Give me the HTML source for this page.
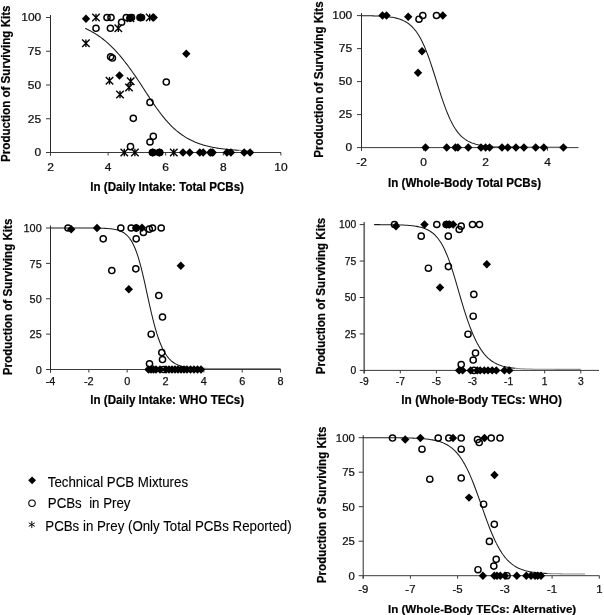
<!DOCTYPE html>
<html><head><meta charset="utf-8"><title>Figure</title>
<style>html,body{margin:0;padding:0;background:#fff}svg{display:block}</style></head>
<body><svg width="604" height="615" viewBox="0 0 604 615" shape-rendering="geometricPrecision">
<rect width="604" height="615" fill="#fff"/>
<g stroke="#3a3a3a" stroke-width="1" fill="none">
<path d="M50.5 15.0V155.5" stroke="#2a2a2a" stroke-width="1"/>
<path d="M46.0 152.5H281"/>
<path d="M46.0 118.75H50.5"/>
<path d="M46.0 85.00H50.5"/>
<path d="M46.0 51.25H50.5"/>
<path d="M46.0 17.50H50.5"/>
<path d="M50.50 152.5V155.5"/>
<path d="M108.10 152.5V155.5"/>
<path d="M165.70 152.5V155.5"/>
<path d="M223.30 152.5V155.5"/>
<path d="M280.90 152.5V155.5"/>
</g>
<path d="M85.06 28.39 L86.09 28.84 L87.11 29.31 L88.14 29.80 L89.16 30.31 L90.19 30.83 L91.22 31.37 L92.24 31.94 L93.27 32.52 L94.29 33.12 L95.32 33.74 L96.35 34.39 L97.37 35.06 L98.40 35.74 L99.42 36.45 L100.45 37.19 L101.48 37.94 L102.50 38.72 L103.53 39.53 L104.55 40.35 L105.58 41.20 L106.61 42.08 L107.63 42.98 L108.66 43.91 L109.68 44.86 L110.71 45.83 L111.74 46.83 L112.76 47.85 L113.79 48.90 L114.81 49.98 L115.84 51.07 L116.87 52.20 L117.89 53.34 L118.92 54.51 L119.94 55.71 L120.97 56.92 L122.00 58.16 L123.02 59.42 L124.05 60.71 L125.07 62.01 L126.10 63.34 L127.13 64.69 L128.15 66.06 L129.18 67.44 L130.20 68.85 L131.23 70.27 L132.26 71.72 L133.28 73.18 L134.31 74.66 L135.33 76.15 L136.36 77.66 L137.39 79.18 L138.41 80.71 L139.44 82.26 L140.46 83.81 L141.49 85.38 L142.52 86.95 L143.54 88.53 L144.57 90.10 L145.59 91.68 L146.62 93.26 L147.65 94.84 L148.67 96.41 L149.70 97.97 L150.72 99.52 L151.75 101.06 L152.78 102.58 L153.80 104.09 L154.83 105.58 L155.85 107.04 L156.88 108.49 L157.91 109.91 L158.93 111.31 L159.96 112.68 L160.98 114.02 L162.01 115.34 L163.04 116.63 L164.06 117.88 L165.09 119.11 L166.11 120.30 L167.14 121.47 L168.17 122.60 L169.19 123.70 L170.22 124.77 L171.24 125.81 L172.27 126.82 L173.30 127.79 L174.32 128.74 L175.35 129.65 L176.37 130.54 L177.40 131.39 L178.43 132.22 L179.45 133.02 L180.48 133.79 L181.50 134.53 L182.53 135.24 L183.56 135.93 L184.58 136.59 L185.61 137.23 L186.63 137.85 L187.66 138.44 L188.69 139.01 L189.71 139.55 L190.74 140.07 L191.76 140.58 L192.79 141.06 L193.82 141.52 L194.84 141.97 L195.87 142.39 L196.89 142.80 L197.92 143.19 L198.95 143.57 L199.97 143.93 L201.00 144.27 L202.02 144.60 L203.05 144.92 L204.08 145.22 L205.10 145.51 L206.13 145.78 L207.15 146.05 L208.18 146.30 L209.21 146.54 L210.23 146.77 L211.26 146.99 L212.28 147.20 L213.31 147.40 L214.34 147.59 L215.36 147.78 L216.39 147.95 L217.41 148.12 L218.44 148.28 L219.47 148.43 L220.49 148.58 L221.52 148.72 L222.54 148.85 L223.57 148.97 L224.60 149.10 L225.62 149.21 L226.65 149.32 L227.67 149.43 L228.70 149.53 L229.73 149.62 L230.75 149.71 L231.78 149.80 L232.80 149.88 L233.83 149.96 L234.86 150.03 L235.88 150.11 L236.91 150.17 L237.93 150.24 L238.96 150.30" fill="none" stroke="#1a1a1a" stroke-width="1.05"/>
<path d="M238.96 150.30 L239.99 150.36 L241.01 150.42 L242.04 150.47 L243.06 150.52 L244.09 150.57 L245.12 150.62 L246.14 150.66 L247.17 150.70 L248.19 150.74 L249.22 150.78" fill="none" stroke="#8a8a8a" stroke-width="1.05"/>
<g font-family='"Liberation Sans", Arial, Helvetica, sans-serif' font-size="10.9" fill="#111" stroke="#111" stroke-width="0.25">
<text transform="translate(41.2 156.40) scale(1.1 1)" text-anchor="end">0</text>
<text transform="translate(41.2 122.65) scale(1.1 1)" text-anchor="end">25</text>
<text transform="translate(41.2 88.90) scale(1.1 1)" text-anchor="end">50</text>
<text transform="translate(41.2 55.15) scale(1.1 1)" text-anchor="end">75</text>
<text transform="translate(41.2 21.40) scale(1.1 1)" text-anchor="end">100</text>
<text transform="translate(50.50 171.00) scale(1.1 1)" text-anchor="middle">2</text>
<text transform="translate(108.10 171.00) scale(1.1 1)" text-anchor="middle">4</text>
<text transform="translate(165.70 171.00) scale(1.1 1)" text-anchor="middle">6</text>
<text transform="translate(223.30 171.00) scale(1.1 1)" text-anchor="middle">8</text>
<text transform="translate(280.90 171.00) scale(1.1 1)" text-anchor="middle">10</text>
</g>
<g font-family='"Liberation Sans", Arial, Helvetica, sans-serif' font-size="11.6" font-weight="bold" fill="#000" stroke="#000" stroke-width="0.2">
<text transform="translate(90.3 191.2) scale(1 1.07)">ln (Daily Intake: Total PCBs)</text>
<text transform="translate(10 83.7) rotate(-90) scale(1 1.03)" text-anchor="middle">Production of Surviving Kits</text>
</g>
<path d="M86.00 14.60L90.20 18.80L86.00 23.00L81.80 18.80Z" fill="#000"/>
<path d="M96.00 13.85V21.35M92.25 13.85L99.75 21.35M99.75 13.85L92.25 21.35" fill="none" stroke="#000" stroke-width="1.35"/>
<circle cx="107.00" cy="17.50" r="3.1" fill="none" stroke="#000" stroke-width="1.45"/>
<circle cx="111.00" cy="17.50" r="3.1" fill="none" stroke="#000" stroke-width="1.45"/>
<circle cx="96.00" cy="28.30" r="3.1" fill="none" stroke="#000" stroke-width="1.45"/>
<circle cx="110.40" cy="28.30" r="3.1" fill="none" stroke="#000" stroke-width="1.45"/>
<path d="M118.30 24.55V32.05M114.55 24.55L122.05 32.05M122.05 24.55L114.55 32.05" fill="none" stroke="#000" stroke-width="1.35"/>
<circle cx="121.60" cy="22.30" r="3.1" fill="none" stroke="#000" stroke-width="1.45"/>
<circle cx="126.30" cy="17.50" r="3.1" fill="none" stroke="#000" stroke-width="1.45"/>
<circle cx="130.00" cy="18.00" r="3.1" fill="none" stroke="#000" stroke-width="1.45"/>
<path d="M130.00 13.80L134.20 18.00L130.00 22.20L125.80 18.00Z" fill="#000"/>
<circle cx="131.50" cy="17.50" r="3.1" fill="none" stroke="#000" stroke-width="1.45"/>
<circle cx="140.00" cy="17.50" r="3.1" fill="none" stroke="#000" stroke-width="1.45"/>
<path d="M140.70 13.30L144.90 17.50L140.70 21.70L136.50 17.50Z" fill="#000"/>
<circle cx="141.50" cy="17.50" r="3.1" fill="none" stroke="#000" stroke-width="1.45"/>
<path d="M149.70 13.75V21.25M145.95 13.75L153.45 21.25M153.45 13.75L145.95 21.25" fill="none" stroke="#000" stroke-width="1.35"/>
<path d="M153.70 13.30L157.90 17.50L153.70 21.70L149.50 17.50Z" fill="#000"/>
<path d="M130.50 14.45V21.95M126.75 14.45L134.25 21.95M134.25 14.45L126.75 21.95" fill="none" stroke="#000" stroke-width="1.35"/>
<path d="M85.90 39.45V46.95M82.15 39.45L89.65 46.95M89.65 39.45L82.15 46.95" fill="none" stroke="#000" stroke-width="1.35"/>
<circle cx="110.60" cy="56.80" r="3.1" fill="none" stroke="#000" stroke-width="1.45"/>
<circle cx="112.40" cy="58.00" r="3.1" fill="none" stroke="#000" stroke-width="1.45"/>
<path d="M119.50 71.30L123.70 75.50L119.50 79.70L115.30 75.50Z" fill="#000"/>
<path d="M109.50 76.95V84.45M105.75 76.95L113.25 84.45M113.25 76.95L105.75 84.45" fill="none" stroke="#000" stroke-width="1.35"/>
<path d="M130.70 77.45V84.95M126.95 77.45L134.45 84.95M134.45 77.45L126.95 84.95" fill="none" stroke="#000" stroke-width="1.35"/>
<path d="M129.00 83.75V91.25M125.25 83.75L132.75 91.25M132.75 83.75L125.25 91.25" fill="none" stroke="#000" stroke-width="1.35"/>
<path d="M120.00 90.75V98.25M116.25 90.75L123.75 98.25M123.75 90.75L116.25 98.25" fill="none" stroke="#000" stroke-width="1.35"/>
<path d="M186.30 49.60L190.50 53.80L186.30 58.00L182.10 53.80Z" fill="#000"/>
<circle cx="166.30" cy="82.00" r="3.1" fill="none" stroke="#000" stroke-width="1.45"/>
<circle cx="150.00" cy="102.40" r="3.1" fill="none" stroke="#000" stroke-width="1.45"/>
<circle cx="133.30" cy="118.30" r="3.1" fill="none" stroke="#000" stroke-width="1.45"/>
<circle cx="153.30" cy="136.30" r="3.1" fill="none" stroke="#000" stroke-width="1.45"/>
<circle cx="150.00" cy="142.00" r="3.1" fill="none" stroke="#000" stroke-width="1.45"/>
<circle cx="130.50" cy="146.70" r="3.1" fill="none" stroke="#000" stroke-width="1.45"/>
<path d="M124.30 148.75V156.25M120.55 148.75L128.05 156.25M128.05 148.75L120.55 156.25" fill="none" stroke="#000" stroke-width="1.35"/>
<path d="M134.90 148.75V156.25M131.15 148.75L138.65 156.25M138.65 148.75L131.15 156.25" fill="none" stroke="#000" stroke-width="1.35"/>
<circle cx="152.40" cy="152.50" r="3.1" fill="none" stroke="#000" stroke-width="1.45"/>
<circle cx="153.10" cy="152.50" r="3.1" fill="none" stroke="#000" stroke-width="1.45"/>
<circle cx="159.10" cy="152.50" r="3.1" fill="none" stroke="#000" stroke-width="1.45"/>
<circle cx="159.80" cy="152.50" r="3.1" fill="none" stroke="#000" stroke-width="1.45"/>
<path d="M152.70 148.30L156.90 152.50L152.70 156.70L148.50 152.50Z" fill="#000"/>
<path d="M159.40 148.30L163.60 152.50L159.40 156.70L155.20 152.50Z" fill="#000"/>
<path d="M173.80 148.75V156.25M170.05 148.75L177.55 156.25M177.55 148.75L170.05 156.25" fill="none" stroke="#000" stroke-width="1.35"/>
<path d="M183.00 148.30L187.20 152.50L183.00 156.70L178.80 152.50Z" fill="#000"/>
<path d="M189.70 148.30L193.90 152.50L189.70 156.70L185.50 152.50Z" fill="#000"/>
<path d="M199.80 148.30L204.00 152.50L199.80 156.70L195.60 152.50Z" fill="#000"/>
<path d="M203.20 148.30L207.40 152.50L203.20 156.70L199.00 152.50Z" fill="#000"/>
<path d="M210.30 148.30L214.50 152.50L210.30 156.70L206.10 152.50Z" fill="#000"/>
<path d="M212.70 148.30L216.90 152.50L212.70 156.70L208.50 152.50Z" fill="#000"/>
<path d="M226.90 148.30L231.10 152.50L226.90 156.70L222.70 152.50Z" fill="#000"/>
<path d="M230.90 148.30L235.10 152.50L230.90 156.70L226.70 152.50Z" fill="#000"/>
<path d="M244.20 148.30L248.40 152.50L244.20 156.70L240.00 152.50Z" fill="#000"/>
<path d="M250.10 148.30L254.30 152.50L250.10 156.70L245.90 152.50Z" fill="#000"/>
<circle cx="211.50" cy="152.50" r="3.1" fill="none" stroke="#000" stroke-width="1.45"/>
<g stroke="#3a3a3a" stroke-width="1" fill="none">
<path d="M361.5 13.1V150.6" stroke="#2a2a2a" stroke-width="1"/>
<path d="M357.0 147.6H578.5"/>
<path d="M357.0 114.60H361.5"/>
<path d="M357.0 81.60H361.5"/>
<path d="M357.0 48.60H361.5"/>
<path d="M357.0 15.60H361.5"/>
<path d="M361.50 147.6V150.6"/>
<path d="M423.50 147.6V150.6"/>
<path d="M485.50 147.6V150.6"/>
<path d="M547.50 147.6V150.6"/>
</g>
<path d="M361.50 15.69 L362.78 15.70 L364.07 15.71 L365.35 15.73 L366.64 15.74 L367.92 15.76 L369.21 15.79 L370.49 15.81 L371.78 15.84 L373.06 15.87 L374.35 15.91 L375.63 15.95 L376.91 15.99 L378.20 16.05 L379.48 16.11 L380.77 16.17 L382.05 16.25 L383.34 16.33 L384.62 16.43 L385.91 16.54 L387.19 16.67 L388.48 16.81 L389.76 16.97 L391.04 17.15 L392.33 17.35 L393.61 17.58 L394.90 17.84 L396.18 18.13 L397.47 18.46 L398.75 18.83 L400.04 19.25 L401.32 19.72 L402.61 20.25 L403.89 20.85 L405.18 21.52 L406.46 22.27 L407.74 23.11 L409.03 24.04 L410.31 25.09 L411.60 26.25 L412.88 27.54 L414.17 28.97 L415.45 30.55 L416.74 32.29 L418.02 34.20 L419.31 36.28 L420.59 38.56 L421.87 41.03 L423.16 43.69 L424.44 46.55 L425.73 49.61 L427.01 52.86 L428.30 56.29 L429.58 59.88 L430.87 63.63 L432.15 67.50 L433.44 71.48 L434.72 75.53 L436.00 79.62 L437.29 83.73 L438.57 87.82 L439.86 91.86 L441.14 95.81 L442.43 99.66 L443.71 103.38 L445.00 106.94 L446.28 110.34 L447.57 113.55 L448.85 116.57 L450.13 119.39 L451.42 122.02 L452.70 124.44 L453.99 126.68 L455.27 128.74 L456.56 130.61 L457.84 132.32 L459.13 133.87 L460.41 135.27 L461.70 136.53 L462.98 137.67 L464.26 138.69 L465.55 139.61 L466.83 140.43 L468.12 141.16 L469.40 141.81 L470.69 142.40 L471.97 142.91 L473.26 143.37 L474.54 143.78 L475.83 144.15 L477.11 144.47 L478.40 144.76 L479.68 145.01 L480.96 145.23 L482.25 145.43" fill="none" stroke="#1a1a1a" stroke-width="1.05"/>
<path d="M482.25 145.43 L483.53 145.61 L484.82 145.76 L486.10 145.90 L487.39 146.02 L488.67 146.13 L489.96 146.22 L491.24 146.31 L492.53 146.38 L493.81 146.45 L495.09 146.50 L496.38 146.56 L497.66 146.60 L498.95 146.64 L500.23 146.68 L501.52 146.71 L502.80 146.73 L504.09 146.76 L505.37 146.78 L506.66 146.80 L507.94 146.82 L509.22 146.83 L510.51 146.84 L511.79 146.85 L513.08 146.86 L514.36 146.87 L515.65 146.88 L516.93 146.89 L518.22 146.89 L519.50 146.90 L520.79 146.90 L522.07 146.91 L523.35 146.91 L524.64 146.92 L525.92 146.92 L527.21 146.92 L528.49 146.92 L529.78 146.93 L531.06 146.93 L532.35 146.93 L533.63 146.93 L534.92 146.93 L536.20 146.93 L537.49 146.93 L538.77 146.93 L540.05 146.93 L541.34 146.94 L542.62 146.94 L543.91 146.94 L545.19 146.94 L546.48 146.94 L547.76 146.94 L549.05 146.94 L550.33 146.94 L551.62 146.94 L552.90 146.94 L554.18 146.94 L555.47 146.94 L556.75 146.94 L558.04 146.94 L559.32 146.94 L560.61 146.94 L561.89 146.94 L563.18 146.94 L564.46 146.94 L565.75 146.94 L567.03 146.94" fill="none" stroke="#8a8a8a" stroke-width="1.05"/>
<g font-family='"Liberation Sans", Arial, Helvetica, sans-serif' font-size="10.9" fill="#111" stroke="#111" stroke-width="0.25">
<text transform="translate(352.2 151.20) scale(1.1 1)" text-anchor="end">0</text>
<text transform="translate(352.2 118.20) scale(1.1 1)" text-anchor="end">25</text>
<text transform="translate(352.2 85.20) scale(1.1 1)" text-anchor="end">50</text>
<text transform="translate(352.2 52.20) scale(1.1 1)" text-anchor="end">75</text>
<text transform="translate(352.2 19.20) scale(1.1 1)" text-anchor="end">100</text>
<text transform="translate(361.50 166.00) scale(1.1 1)" text-anchor="middle">-2</text>
<text transform="translate(423.50 166.00) scale(1.1 1)" text-anchor="middle">0</text>
<text transform="translate(485.50 166.00) scale(1.1 1)" text-anchor="middle">2</text>
<text transform="translate(547.50 166.00) scale(1.1 1)" text-anchor="middle">4</text>
</g>
<g font-family='"Liberation Sans", Arial, Helvetica, sans-serif' font-size="11.6" font-weight="bold" fill="#000" stroke="#000" stroke-width="0.2">
<text transform="translate(388 186.7) scale(1 1.07)">ln (Whole-Body Total PCBs)</text>
<text transform="translate(323.3 79.6) rotate(-90) scale(1 1.05)" text-anchor="middle">Production of Surviving Kits</text>
</g>
<path d="M382.50 11.30L386.70 15.50L382.50 19.70L378.30 15.50Z" fill="#000"/>
<path d="M386.50 11.30L390.70 15.50L386.50 19.70L382.30 15.50Z" fill="#000"/>
<path d="M408.20 12.60L412.40 16.80L408.20 21.00L404.00 16.80Z" fill="#000"/>
<circle cx="422.80" cy="15.50" r="3.1" fill="none" stroke="#000" stroke-width="1.45"/>
<circle cx="419.00" cy="19.20" r="3.1" fill="none" stroke="#000" stroke-width="1.45"/>
<circle cx="436.50" cy="15.50" r="3.1" fill="none" stroke="#000" stroke-width="1.45"/>
<path d="M442.80 11.30L447.00 15.50L442.80 19.70L438.60 15.50Z" fill="#000"/>
<path d="M422.00 47.00L426.20 51.20L422.00 55.40L417.80 51.20Z" fill="#000"/>
<path d="M418.00 68.60L422.20 72.80L418.00 77.00L413.80 72.80Z" fill="#000"/>
<path d="M425.50 143.30L429.70 147.50L425.50 151.70L421.30 147.50Z" fill="#000"/>
<path d="M446.70 143.30L450.90 147.50L446.70 151.70L442.50 147.50Z" fill="#000"/>
<path d="M455.40 143.30L459.60 147.50L455.40 151.70L451.20 147.50Z" fill="#000"/>
<path d="M457.90 143.30L462.10 147.50L457.90 151.70L453.70 147.50Z" fill="#000"/>
<path d="M468.30 143.30L472.50 147.50L468.30 151.70L464.10 147.50Z" fill="#000"/>
<path d="M481.00 143.30L485.20 147.50L481.00 151.70L476.80 147.50Z" fill="#000"/>
<path d="M485.60 143.30L489.80 147.50L485.60 151.70L481.40 147.50Z" fill="#000"/>
<path d="M489.60 143.30L493.80 147.50L489.60 151.70L485.40 147.50Z" fill="#000"/>
<path d="M502.00 143.30L506.20 147.50L502.00 151.70L497.80 147.50Z" fill="#000"/>
<path d="M507.80 143.30L512.00 147.50L507.80 151.70L503.60 147.50Z" fill="#000"/>
<path d="M515.90 143.30L520.10 147.50L515.90 151.70L511.70 147.50Z" fill="#000"/>
<path d="M523.90 143.30L528.10 147.50L523.90 151.70L519.70 147.50Z" fill="#000"/>
<path d="M535.70 143.30L539.90 147.50L535.70 151.70L531.50 147.50Z" fill="#000"/>
<path d="M543.80 143.30L548.00 147.50L543.80 151.70L539.60 147.50Z" fill="#000"/>
<path d="M563.40 143.30L567.60 147.50L563.40 151.70L559.20 147.50Z" fill="#000"/>
<g stroke="#3a3a3a" stroke-width="1" fill="none">
<path d="M50.5 225.5V372.5" stroke="#2a2a2a" stroke-width="1"/>
<path d="M46.0 369.5H281"/>
<path d="M46.0 334.12H50.5"/>
<path d="M46.0 298.75H50.5"/>
<path d="M46.0 263.38H50.5"/>
<path d="M46.0 228.00H50.5"/>
<path d="M50.50 369.5V372.5"/>
<path d="M88.84 369.5V372.5"/>
<path d="M127.18 369.5V372.5"/>
<path d="M165.52 369.5V372.5"/>
<path d="M203.86 369.5V372.5"/>
<path d="M242.20 369.5V372.5"/>
<path d="M280.54 369.5V372.5"/>
</g>
<path d="M50.50 228.00 L51.94 228.00 L53.38 228.00 L54.81 228.00 L56.25 228.00 L57.69 228.00 L59.13 228.00 L60.56 228.00 L62.00 228.00 L63.44 228.00 L64.88 228.00 L66.32 228.00 L67.75 228.00 L69.19 228.00 L70.63 228.00 L72.07 228.00 L73.50 228.00 L74.94 228.01 L76.38 228.01 L77.82 228.01 L79.25 228.01 L80.69 228.01 L82.13 228.02 L83.57 228.02 L85.01 228.02 L86.44 228.03 L87.88 228.03 L89.32 228.04 L90.76 228.05 L92.19 228.06 L93.63 228.08 L95.07 228.09 L96.51 228.11 L97.95 228.14 L99.38 228.17 L100.82 228.20 L102.26 228.25 L103.70 228.30 L105.13 228.37 L106.57 228.45 L108.01 228.55 L109.45 228.67 L110.89 228.82 L112.32 229.00 L113.76 229.22 L115.20 229.48 L116.64 229.80 L118.07 230.20 L119.51 230.67 L120.95 231.25 L122.39 231.95 L123.83 232.79 L125.26 233.81 L126.70 235.03 L128.14 236.50 L129.58 238.25 L131.01 240.33 L132.45 242.79 L133.89 245.67 L135.33 249.01 L136.77 252.85 L138.20 257.21 L139.64 262.10 L141.08 267.47 L142.52 273.30 L143.95 279.49 L145.39 285.94 L146.83 292.53 L148.27 299.13 L149.70 305.64 L151.14 311.93 L152.58 317.93 L154.02 323.58 L155.46 328.82 L156.89 333.65 L158.33 338.04 L159.77 342.00 L161.21 345.55 L162.64 348.70 L164.08 351.48 L165.52 353.92 L166.96 356.04 L168.40 357.89 L169.83 359.48 L171.27 360.85 L172.71 362.02 L174.15 363.02 L175.58 363.87 L177.02 364.60 L178.46 365.21 L179.90 365.73 L181.34 366.17 L182.77 366.54 L184.21 366.86 L185.65 367.12 L187.09 367.34" fill="none" stroke="#1a1a1a" stroke-width="1.05"/>
<path d="M187.09 367.34 L188.52 367.53 L189.96 367.69 L191.40 367.82 L192.84 367.93 L194.28 368.02 L195.71 368.10 L197.15 368.17 L198.59 368.22 L200.03 368.27 L201.46 368.31 L202.90 368.34 L204.34 368.37 L205.78 368.39 L207.21 368.41 L208.65 368.43 L210.09 368.44 L211.53 368.45 L212.97 368.46 L214.40 368.47 L215.84 368.47 L217.28 368.48 L218.72 368.49 L220.15 368.49 L221.59 368.49 L223.03 368.50 L224.47 368.50 L225.91 368.50 L227.34 368.50 L228.78 368.50 L230.22 368.50 L231.66 368.50 L233.09 368.51 L234.53 368.51 L235.97 368.51 L237.41 368.51 L238.85 368.51 L240.28 368.51 L241.72 368.51 L243.16 368.51 L244.60 368.51 L246.03 368.51 L247.47 368.51 L248.91 368.51 L250.35 368.51 L251.79 368.51 L253.22 368.51 L254.66 368.51 L256.10 368.51 L257.54 368.51 L258.97 368.51 L260.41 368.51 L261.85 368.51 L263.29 368.51 L264.72 368.51 L266.16 368.51 L267.60 368.51 L269.04 368.51 L270.48 368.51 L271.91 368.51 L273.35 368.51 L274.79 368.51 L276.23 368.51 L277.66 368.51 L279.10 368.51 L280.54 368.51" fill="none" stroke="#8a8a8a" stroke-width="1.05"/>
<g font-family='"Liberation Sans", Arial, Helvetica, sans-serif' font-size="10.9" fill="#111" stroke="#111" stroke-width="0.25">
<text transform="translate(41.7 373.70) scale(1.0 1)" text-anchor="end">0</text>
<text transform="translate(41.7 338.32) scale(1.0 1)" text-anchor="end">25</text>
<text transform="translate(41.7 302.95) scale(1.0 1)" text-anchor="end">50</text>
<text transform="translate(41.7 267.57) scale(1.0 1)" text-anchor="end">75</text>
<text transform="translate(41.7 232.20) scale(1.0 1)" text-anchor="end">100</text>
<text transform="translate(50.50 385.00) scale(1.0 1)" text-anchor="middle">-4</text>
<text transform="translate(88.84 385.00) scale(1.0 1)" text-anchor="middle">-2</text>
<text transform="translate(127.18 385.00) scale(1.0 1)" text-anchor="middle">0</text>
<text transform="translate(165.52 385.00) scale(1.0 1)" text-anchor="middle">2</text>
<text transform="translate(203.86 385.00) scale(1.0 1)" text-anchor="middle">4</text>
<text transform="translate(242.20 385.00) scale(1.0 1)" text-anchor="middle">6</text>
<text transform="translate(280.54 385.00) scale(1.0 1)" text-anchor="middle">8</text>
</g>
<g font-family='"Liberation Sans", Arial, Helvetica, sans-serif' font-size="11.6" font-weight="bold" fill="#000" stroke="#000" stroke-width="0.2">
<text transform="translate(90.3 403.9) scale(1 1.07)">ln (Daily Intake: WHO TECs)</text>
<text transform="translate(12.2 296.9) rotate(-90) scale(1 1.03)" text-anchor="middle">Production of Surviving Kits</text>
</g>
<circle cx="68.00" cy="228.00" r="3.1" fill="none" stroke="#000" stroke-width="1.45"/>
<path d="M71.20 225.00L75.40 229.20L71.20 233.40L67.00 229.20Z" fill="#000"/>
<path d="M97.00 223.80L101.20 228.00L97.00 232.20L92.80 228.00Z" fill="#000"/>
<circle cx="103.20" cy="238.80" r="3.1" fill="none" stroke="#000" stroke-width="1.45"/>
<circle cx="120.80" cy="228.00" r="3.1" fill="none" stroke="#000" stroke-width="1.45"/>
<circle cx="131.20" cy="228.00" r="3.1" fill="none" stroke="#000" stroke-width="1.45"/>
<circle cx="136.20" cy="228.00" r="3.1" fill="none" stroke="#000" stroke-width="1.45"/>
<path d="M136.20 223.80L140.40 228.00L136.20 232.20L132.00 228.00Z" fill="#000"/>
<path d="M142.00 223.60L146.20 227.80L142.00 232.00L137.80 227.80Z" fill="#000"/>
<circle cx="143.40" cy="232.50" r="3.1" fill="none" stroke="#000" stroke-width="1.45"/>
<circle cx="149.30" cy="229.20" r="3.1" fill="none" stroke="#000" stroke-width="1.45"/>
<circle cx="152.50" cy="228.00" r="3.1" fill="none" stroke="#000" stroke-width="1.45"/>
<circle cx="161.20" cy="228.00" r="3.1" fill="none" stroke="#000" stroke-width="1.45"/>
<circle cx="136.20" cy="238.80" r="3.1" fill="none" stroke="#000" stroke-width="1.45"/>
<path d="M180.80 261.60L185.00 265.80L180.80 270.00L176.60 265.80Z" fill="#000"/>
<circle cx="111.80" cy="270.50" r="3.1" fill="none" stroke="#000" stroke-width="1.45"/>
<circle cx="135.80" cy="268.80" r="3.1" fill="none" stroke="#000" stroke-width="1.45"/>
<path d="M128.80 285.00L133.00 289.20L128.80 293.40L124.60 289.20Z" fill="#000"/>
<circle cx="158.80" cy="295.50" r="3.1" fill="none" stroke="#000" stroke-width="1.45"/>
<circle cx="162.50" cy="317.00" r="3.1" fill="none" stroke="#000" stroke-width="1.45"/>
<circle cx="151.20" cy="334.20" r="3.1" fill="none" stroke="#000" stroke-width="1.45"/>
<circle cx="161.80" cy="352.50" r="3.1" fill="none" stroke="#000" stroke-width="1.45"/>
<circle cx="162.50" cy="359.50" r="3.1" fill="none" stroke="#000" stroke-width="1.45"/>
<circle cx="149.50" cy="363.80" r="3.1" fill="none" stroke="#000" stroke-width="1.45"/>
<path d="M148.50 365.30L152.70 369.50L148.50 373.70L144.30 369.50Z" fill="#000"/>
<path d="M151.00 365.30L155.20 369.50L151.00 373.70L146.80 369.50Z" fill="#000"/>
<path d="M153.50 365.30L157.70 369.50L153.50 373.70L149.30 369.50Z" fill="#000"/>
<path d="M156.00 365.30L160.20 369.50L156.00 373.70L151.80 369.50Z" fill="#000"/>
<path d="M160.00 365.30L164.20 369.50L160.00 373.70L155.80 369.50Z" fill="#000"/>
<path d="M166.00 365.30L170.20 369.50L166.00 373.70L161.80 369.50Z" fill="#000"/>
<path d="M169.00 365.30L173.20 369.50L169.00 373.70L164.80 369.50Z" fill="#000"/>
<path d="M172.00 365.30L176.20 369.50L172.00 373.70L167.80 369.50Z" fill="#000"/>
<path d="M175.00 365.30L179.20 369.50L175.00 373.70L170.80 369.50Z" fill="#000"/>
<path d="M178.00 365.30L182.20 369.50L178.00 373.70L173.80 369.50Z" fill="#000"/>
<path d="M181.00 365.30L185.20 369.50L181.00 373.70L176.80 369.50Z" fill="#000"/>
<path d="M184.00 365.30L188.20 369.50L184.00 373.70L179.80 369.50Z" fill="#000"/>
<path d="M187.00 365.30L191.20 369.50L187.00 373.70L182.80 369.50Z" fill="#000"/>
<path d="M190.50 365.30L194.70 369.50L190.50 373.70L186.30 369.50Z" fill="#000"/>
<path d="M194.00 365.30L198.20 369.50L194.00 373.70L189.80 369.50Z" fill="#000"/>
<path d="M197.50 365.30L201.70 369.50L197.50 373.70L193.30 369.50Z" fill="#000"/>
<path d="M201.00 365.30L205.20 369.50L201.00 373.70L196.80 369.50Z" fill="#000"/>
<circle cx="163.70" cy="369.50" r="3.1" fill="none" stroke="#000" stroke-width="1.45"/>
<g stroke="#3a3a3a" stroke-width="1" fill="none">
<path d="M364.2 222.1V373.4" stroke="#6a6a6a" stroke-width="1.7"/>
<path d="M359.7 370.4H599"/>
<path d="M359.7 333.95H364.2"/>
<path d="M359.7 297.50H364.2"/>
<path d="M359.7 261.05H364.2"/>
<path d="M359.7 224.60H364.2"/>
<path d="M364.20 370.4V373.4"/>
<path d="M400.30 370.4V373.4"/>
<path d="M436.40 370.4V373.4"/>
<path d="M472.50 370.4V373.4"/>
<path d="M508.60 370.4V373.4"/>
<path d="M544.70 370.4V373.4"/>
<path d="M580.80 370.4V373.4"/>
</g>
<path d="M374.13 224.62 L375.42 224.63 L376.71 224.63 L378.00 224.64 L379.29 224.64 L380.59 224.65 L381.88 224.65 L383.17 224.66 L384.46 224.67 L385.75 224.68 L387.04 224.69 L388.34 224.70 L389.63 224.72 L390.92 224.73 L392.21 224.75 L393.50 224.77 L394.79 224.80 L396.09 224.82 L397.38 224.85 L398.67 224.89 L399.96 224.93 L401.25 224.97 L402.54 225.03 L403.84 225.09 L405.13 225.15 L406.42 225.23 L407.71 225.32 L409.00 225.42 L410.30 225.53 L411.59 225.66 L412.88 225.80 L414.17 225.97 L415.46 226.16 L416.75 226.37 L418.05 226.62 L419.34 226.89 L420.63 227.21 L421.92 227.56 L423.21 227.96 L424.50 228.42 L425.80 228.94 L427.09 229.52 L428.38 230.18 L429.67 230.93 L430.96 231.76 L432.25 232.71 L433.55 233.77 L434.84 234.96 L436.13 236.30 L437.42 237.78 L438.71 239.44 L440.00 241.29 L441.30 243.33 L442.59 245.58 L443.88 248.06 L445.17 250.76 L446.46 253.71 L447.75 256.90 L449.05 260.32 L450.34 263.97 L451.63 267.84 L452.92 271.89 L454.21 276.11 L455.50 280.45 L456.80 284.88 L458.09 289.35 L459.38 293.83 L460.67 298.27 L461.96 302.64 L463.26 306.91 L464.55 311.06 L465.84 315.07 L467.13 318.93 L468.42 322.63 L469.71 326.16 L471.01 329.52 L472.30 332.71 L473.59 335.72 L474.88 338.54 L476.17 341.20 L477.46 343.67 L478.76 345.98 L480.05 348.11 L481.34 350.09 L482.63 351.91 L483.92 353.58 L485.21 355.11 L486.51 356.51 L487.80 357.78 L489.09 358.94 L490.38 359.99 L491.67 360.95 L492.96 361.81 L494.26 362.59 L495.55 363.29 L496.84 363.92 L498.13 364.49 L499.42 365.01 L500.71 365.47 L502.01 365.88 L503.30 366.25 L504.59 366.58 L505.88 366.88 L507.17 367.14 L508.46 367.38 L509.76 367.60 L511.05 367.79 L512.34 367.96 L513.63 368.11 L514.92 368.25" fill="none" stroke="#1a1a1a" stroke-width="1.05"/>
<path d="M514.92 368.25 L516.21 368.37 L517.51 368.48 L518.80 368.57 L520.09 368.66 L521.38 368.74 L522.67 368.81 L523.97 368.87 L525.26 368.92 L526.55 368.97 L527.84 369.02 L529.13 369.06 L530.42 369.09 L531.72 369.12 L533.01 369.15 L534.30 369.17 L535.59 369.20 L536.88 369.22 L538.17 369.23 L539.47 369.25 L540.76 369.26 L542.05 369.28 L543.34 369.29 L544.63 369.30 L545.92 369.31 L547.22 369.31 L548.51 369.32 L549.80 369.33 L551.09 369.33 L552.38 369.34 L553.67 369.34 L554.97 369.35 L556.26 369.35 L557.55 369.35 L558.84 369.36 L560.13 369.36 L561.42 369.36 L562.72 369.36 L564.01 369.36 L565.30 369.37 L566.59 369.37 L567.88 369.37 L569.17 369.37 L570.47 369.37 L571.76 369.37 L573.05 369.37 L574.34 369.37 L575.63 369.37 L576.92 369.37 L578.22 369.38 L579.51 369.38 L580.80 369.38" fill="none" stroke="#8a8a8a" stroke-width="1.05"/>
<g font-family='"Liberation Sans", Arial, Helvetica, sans-serif' font-size="10.3" fill="#111" stroke="#111" stroke-width="0.25">
<text transform="translate(356.2 374.00) scale(1.0 1)" text-anchor="end">0</text>
<text transform="translate(356.2 337.55) scale(1.0 1)" text-anchor="end">25</text>
<text transform="translate(356.2 301.10) scale(1.0 1)" text-anchor="end">50</text>
<text transform="translate(356.2 264.65) scale(1.0 1)" text-anchor="end">75</text>
<text transform="translate(356.2 228.20) scale(1.0 1)" text-anchor="end">100</text>
<text transform="translate(364.20 385.00) scale(1.0 1)" text-anchor="middle">-9</text>
<text transform="translate(400.30 385.00) scale(1.0 1)" text-anchor="middle">-7</text>
<text transform="translate(436.40 385.00) scale(1.0 1)" text-anchor="middle">-5</text>
<text transform="translate(472.50 385.00) scale(1.0 1)" text-anchor="middle">-3</text>
<text transform="translate(508.60 385.00) scale(1.0 1)" text-anchor="middle">-1</text>
<text transform="translate(544.70 385.00) scale(1.0 1)" text-anchor="middle">1</text>
<text transform="translate(580.80 385.00) scale(1.0 1)" text-anchor="middle">3</text>
</g>
<g font-family='"Liberation Sans", Arial, Helvetica, sans-serif' font-size="11.6" font-weight="bold" fill="#000" stroke="#000" stroke-width="0.2">
<text transform="translate(401.3 404.2) scale(1.023 1.08)">ln (Whole-Body TECs: WHO)</text>
<text transform="translate(325 296) rotate(-90) scale(1 1.1)" text-anchor="middle">Production of Surviving Kits</text>
</g>
<circle cx="394.50" cy="224.50" r="3.1" fill="none" stroke="#000" stroke-width="1.45"/>
<path d="M396.00 222.00L400.20 226.20L396.00 230.40L391.80 226.20Z" fill="#000"/>
<path d="M424.50 220.30L428.70 224.50L424.50 228.70L420.30 224.50Z" fill="#000"/>
<circle cx="436.80" cy="224.50" r="3.1" fill="none" stroke="#000" stroke-width="1.45"/>
<circle cx="446.20" cy="224.50" r="3.1" fill="none" stroke="#000" stroke-width="1.45"/>
<path d="M446.50 220.30L450.70 224.50L446.50 228.70L442.30 224.50Z" fill="#000"/>
<circle cx="448.70" cy="224.50" r="3.1" fill="none" stroke="#000" stroke-width="1.45"/>
<path d="M449.50 220.30L453.70 224.50L449.50 228.70L445.30 224.50Z" fill="#000"/>
<path d="M453.20 220.30L457.40 224.50L453.20 228.70L449.00 224.50Z" fill="#000"/>
<circle cx="461.20" cy="226.20" r="3.1" fill="none" stroke="#000" stroke-width="1.45"/>
<circle cx="459.20" cy="229.50" r="3.1" fill="none" stroke="#000" stroke-width="1.45"/>
<circle cx="472.50" cy="224.50" r="3.1" fill="none" stroke="#000" stroke-width="1.45"/>
<circle cx="479.50" cy="224.50" r="3.1" fill="none" stroke="#000" stroke-width="1.45"/>
<circle cx="448.30" cy="236.20" r="3.1" fill="none" stroke="#000" stroke-width="1.45"/>
<circle cx="421.20" cy="236.20" r="3.1" fill="none" stroke="#000" stroke-width="1.45"/>
<path d="M486.80 260.00L491.00 264.20L486.80 268.40L482.60 264.20Z" fill="#000"/>
<circle cx="428.40" cy="268.20" r="3.1" fill="none" stroke="#000" stroke-width="1.45"/>
<circle cx="448.40" cy="266.60" r="3.1" fill="none" stroke="#000" stroke-width="1.45"/>
<path d="M440.00 283.30L444.20 287.50L440.00 291.70L435.80 287.50Z" fill="#000"/>
<circle cx="473.80" cy="294.40" r="3.1" fill="none" stroke="#000" stroke-width="1.45"/>
<circle cx="473.20" cy="316.20" r="3.1" fill="none" stroke="#000" stroke-width="1.45"/>
<circle cx="468.00" cy="334.20" r="3.1" fill="none" stroke="#000" stroke-width="1.45"/>
<circle cx="475.50" cy="353.00" r="3.1" fill="none" stroke="#000" stroke-width="1.45"/>
<circle cx="473.20" cy="360.00" r="3.1" fill="none" stroke="#000" stroke-width="1.45"/>
<circle cx="461.20" cy="364.50" r="3.1" fill="none" stroke="#000" stroke-width="1.45"/>
<path d="M459.10 366.20L463.30 370.40L459.10 374.60L454.90 370.40Z" fill="#000"/>
<path d="M462.60 366.20L466.80 370.40L462.60 374.60L458.40 370.40Z" fill="#000"/>
<circle cx="474.00" cy="370.40" r="3.1" fill="none" stroke="#000" stroke-width="1.45"/>
<path d="M470.60 366.20L474.80 370.40L470.60 374.60L466.40 370.40Z" fill="#000"/>
<path d="M477.30 366.20L481.50 370.40L477.30 374.60L473.10 370.40Z" fill="#000"/>
<path d="M480.20 366.20L484.40 370.40L480.20 374.60L476.00 370.40Z" fill="#000"/>
<path d="M484.30 366.20L488.50 370.40L484.30 374.60L480.10 370.40Z" fill="#000"/>
<path d="M488.00 366.20L492.20 370.40L488.00 374.60L483.80 370.40Z" fill="#000"/>
<path d="M492.20 366.20L496.40 370.40L492.20 374.60L488.00 370.40Z" fill="#000"/>
<path d="M496.30 366.20L500.50 370.40L496.30 374.60L492.10 370.40Z" fill="#000"/>
<path d="M504.40 366.20L508.60 370.40L504.40 374.60L500.20 370.40Z" fill="#000"/>
<path d="M509.30 366.20L513.50 370.40L509.30 374.60L505.10 370.40Z" fill="#000"/>
<g stroke="#3a3a3a" stroke-width="1" fill="none">
<path d="M363.2 435.2V578.7" stroke="#2a2a2a" stroke-width="1"/>
<path d="M358.7 575.7H599.4"/>
<path d="M358.7 541.20H363.2"/>
<path d="M358.7 506.70H363.2"/>
<path d="M358.7 472.20H363.2"/>
<path d="M358.7 437.70H363.2"/>
<path d="M363.20 575.7V578.7"/>
<path d="M410.42 575.7V578.7"/>
<path d="M457.64 575.7V578.7"/>
<path d="M504.86 575.7V578.7"/>
<path d="M552.08 575.7V578.7"/>
<path d="M599.30 575.7V578.7"/>
</g>
<path d="M363.20 437.71 L364.59 437.71 L365.97 437.71 L367.36 437.71 L368.75 437.71 L370.14 437.71 L371.52 437.71 L372.91 437.71 L374.30 437.72 L375.68 437.72 L377.07 437.72 L378.46 437.72 L379.85 437.73 L381.23 437.73 L382.62 437.73 L384.01 437.74 L385.39 437.74 L386.78 437.75 L388.17 437.75 L389.55 437.76 L390.94 437.77 L392.33 437.78 L393.72 437.79 L395.10 437.80 L396.49 437.81 L397.88 437.82 L399.26 437.84 L400.65 437.85 L402.04 437.87 L403.43 437.89 L404.81 437.92 L406.20 437.94 L407.59 437.97 L408.97 438.01 L410.36 438.05 L411.75 438.09 L413.14 438.14 L414.52 438.19 L415.91 438.25 L417.30 438.32 L418.68 438.39 L420.07 438.48 L421.46 438.57 L422.84 438.68 L424.23 438.80 L425.62 438.93 L427.01 439.09 L428.39 439.25 L429.78 439.44 L431.17 439.66 L432.55 439.89 L433.94 440.16 L435.33 440.46 L436.72 440.79 L438.10 441.16 L439.49 441.57 L440.88 442.04 L442.26 442.55 L443.65 443.13 L445.04 443.77 L446.43 444.48 L447.81 445.27 L449.20 446.15 L450.59 447.12 L451.97 448.19 L453.36 449.37 L454.75 450.67 L456.13 452.11 L457.52 453.67 L458.91 455.39 L460.30 457.26 L461.68 459.29 L463.07 461.49 L464.46 463.86 L465.84 466.41 L467.23 469.13 L468.62 472.03 L470.01 475.11 L471.39 478.34 L472.78 481.74 L474.17 485.28 L475.55 488.94 L476.94 492.71 L478.33 496.57 L479.72 500.48 L481.10 504.44 L482.49 508.40 L483.88 512.35 L485.26 516.25 L486.65 520.09 L488.04 523.83 L489.42 527.46 L490.81 530.96 L492.20 534.31 L493.59 537.51 L494.97 540.53 L496.36 543.38 L497.75 546.06 L499.13 548.56 L500.52 550.88 L501.91 553.03 L503.30 555.02 L504.68 556.84 L506.07 558.52 L507.46 560.05 L508.84 561.44 L510.23 562.71 L511.62 563.86 L513.01 564.91 L514.39 565.85 L515.78 566.70 L517.17 567.47 L518.55 568.16 L519.94 568.78 L521.33 569.34 L522.72 569.84 L524.10 570.29 L525.49 570.69 L526.88 571.05 L528.26 571.37 L529.65 571.66 L531.04 571.92 L532.42 572.15 L533.81 572.35 L535.20 572.54 L536.59 572.70 L537.97 572.85 L539.36 572.98 L540.75 573.09 L542.13 573.20 L543.52 573.29 L544.91 573.37 L546.30 573.45 L547.68 573.51" fill="none" stroke="#1a1a1a" stroke-width="1.05"/>
<path d="M547.68 573.51 L549.07 573.57 L550.46 573.62 L551.84 573.67 L553.23 573.71 L554.62 573.75 L556.01 573.78 L557.39 573.81 L558.78 573.83 L560.17 573.86 L561.55 573.88 L562.94 573.90 L564.33 573.91 L565.71 573.93 L567.10 573.94 L568.49 573.95 L569.88 573.96 L571.26 573.97 L572.65 573.98 L574.04 573.99 L575.42 573.99 L576.81 574.00 L578.20 574.00 L579.59 574.01 L580.97 574.01 L582.36 574.01 L583.75 574.02 L585.13 574.02" fill="none" stroke="#8a8a8a" stroke-width="1.05"/>
<g font-family='"Liberation Sans", Arial, Helvetica, sans-serif' font-size="10.9" fill="#111" stroke="#111" stroke-width="0.25">
<text transform="translate(354.8 579.90) scale(1.045 1)" text-anchor="end">0</text>
<text transform="translate(354.8 545.40) scale(1.045 1)" text-anchor="end">25</text>
<text transform="translate(354.8 510.90) scale(1.045 1)" text-anchor="end">50</text>
<text transform="translate(354.8 476.40) scale(1.045 1)" text-anchor="end">75</text>
<text transform="translate(354.8 441.90) scale(1.045 1)" text-anchor="end">100</text>
<text transform="translate(363.20 593.00) scale(1.045 1)" text-anchor="middle">-9</text>
<text transform="translate(410.42 593.00) scale(1.045 1)" text-anchor="middle">-7</text>
<text transform="translate(457.64 593.00) scale(1.045 1)" text-anchor="middle">-5</text>
<text transform="translate(504.86 593.00) scale(1.045 1)" text-anchor="middle">-3</text>
<text transform="translate(552.08 593.00) scale(1.045 1)" text-anchor="middle">-1</text>
<text transform="translate(599.30 593.00) scale(1.045 1)" text-anchor="middle">1</text>
</g>
<g font-family='"Liberation Sans", Arial, Helvetica, sans-serif' font-size="11.6" font-weight="bold" fill="#000" stroke="#000" stroke-width="0.2">
<text transform="translate(388 612.7) scale(1 1.02)">ln (Whole-Body TECs: Alternative)</text>
<text transform="translate(325.7 504.9) rotate(-90) scale(1 1.03)" text-anchor="middle">Production of Surviving Kits</text>
</g>
<circle cx="392.50" cy="438.00" r="3.1" fill="none" stroke="#000" stroke-width="1.45"/>
<path d="M405.20 435.30L409.40 439.50L405.20 443.70L401.00 439.50Z" fill="#000"/>
<path d="M420.40 433.80L424.60 438.00L420.40 442.20L416.20 438.00Z" fill="#000"/>
<circle cx="438.20" cy="438.00" r="3.1" fill="none" stroke="#000" stroke-width="1.45"/>
<circle cx="448.80" cy="438.00" r="3.1" fill="none" stroke="#000" stroke-width="1.45"/>
<path d="M453.00 433.80L457.20 438.00L453.00 442.20L448.80 438.00Z" fill="#000"/>
<circle cx="461.20" cy="438.00" r="3.1" fill="none" stroke="#000" stroke-width="1.45"/>
<circle cx="477.50" cy="439.50" r="3.1" fill="none" stroke="#000" stroke-width="1.45"/>
<circle cx="479.20" cy="442.50" r="3.1" fill="none" stroke="#000" stroke-width="1.45"/>
<path d="M484.50 433.80L488.70 438.00L484.50 442.20L480.30 438.00Z" fill="#000"/>
<circle cx="491.20" cy="438.00" r="3.1" fill="none" stroke="#000" stroke-width="1.45"/>
<circle cx="500.00" cy="438.00" r="3.1" fill="none" stroke="#000" stroke-width="1.45"/>
<circle cx="422.00" cy="449.20" r="3.1" fill="none" stroke="#000" stroke-width="1.45"/>
<circle cx="461.20" cy="449.20" r="3.1" fill="none" stroke="#000" stroke-width="1.45"/>
<path d="M494.50 470.80L498.70 475.00L494.50 479.20L490.30 475.00Z" fill="#000"/>
<circle cx="429.80" cy="479.20" r="3.1" fill="none" stroke="#000" stroke-width="1.45"/>
<circle cx="461.20" cy="478.00" r="3.1" fill="none" stroke="#000" stroke-width="1.45"/>
<path d="M469.00 493.40L473.20 497.60L469.00 501.80L464.80 497.60Z" fill="#000"/>
<circle cx="483.60" cy="504.20" r="3.1" fill="none" stroke="#000" stroke-width="1.45"/>
<circle cx="494.30" cy="524.30" r="3.1" fill="none" stroke="#000" stroke-width="1.45"/>
<circle cx="489.40" cy="541.40" r="3.1" fill="none" stroke="#000" stroke-width="1.45"/>
<circle cx="496.20" cy="559.30" r="3.1" fill="none" stroke="#000" stroke-width="1.45"/>
<circle cx="493.80" cy="566.10" r="3.1" fill="none" stroke="#000" stroke-width="1.45"/>
<circle cx="478.00" cy="569.70" r="3.1" fill="none" stroke="#000" stroke-width="1.45"/>
<circle cx="507.00" cy="575.70" r="3.1" fill="none" stroke="#000" stroke-width="1.45"/>
<path d="M482.90 571.50L487.10 575.70L482.90 579.90L478.70 575.70Z" fill="#000"/>
<path d="M494.30 571.50L498.50 575.70L494.30 579.90L490.10 575.70Z" fill="#000"/>
<path d="M497.00 571.50L501.20 575.70L497.00 579.90L492.80 575.70Z" fill="#000"/>
<path d="M500.30 571.50L504.50 575.70L500.30 579.90L496.10 575.70Z" fill="#000"/>
<path d="M505.00 571.50L509.20 575.70L505.00 579.90L500.80 575.70Z" fill="#000"/>
<path d="M516.80 571.50L521.00 575.70L516.80 579.90L512.60 575.70Z" fill="#000"/>
<path d="M526.30 571.50L530.50 575.70L526.30 579.90L522.10 575.70Z" fill="#000"/>
<path d="M531.00 571.50L535.20 575.70L531.00 579.90L526.80 575.70Z" fill="#000"/>
<path d="M535.00 571.50L539.20 575.70L535.00 579.90L530.80 575.70Z" fill="#000"/>
<path d="M537.70 571.50L541.90 575.70L537.70 579.90L533.50 575.70Z" fill="#000"/>
<path d="M541.00 571.50L545.20 575.70L541.00 579.90L536.80 575.70Z" fill="#000"/>
<path d="M32.10 476.40L36.00 480.30L32.10 484.20L28.20 480.30Z" fill="#000"/>
<circle cx="32.00" cy="503.30" r="3.25" fill="none" stroke="#000" stroke-width="1.1"/>
<path d="M31.80 521.10V528.10M28.77 522.85L34.83 526.35M34.83 522.85L28.77 526.35" fill="none" stroke="#000" stroke-width="0.95"/>
<g font-family='"Liberation Sans", Arial, Helvetica, sans-serif' font-size="13.3" fill="#000" stroke="#000" stroke-width="0.1">
<text transform="translate(47.8 486.5) scale(1 1.06)" xml:space="preserve">Technical PCB Mixtures</text>
<text transform="translate(47.8 508.3) scale(1 1.06)" xml:space="preserve">PCBs  in Prey</text>
<text transform="translate(45.3 531.4) scale(1 1.06)" xml:space="preserve">PCBs in Prey (Only Total PCBs Reported)</text>
</g>
</svg></body></html>
